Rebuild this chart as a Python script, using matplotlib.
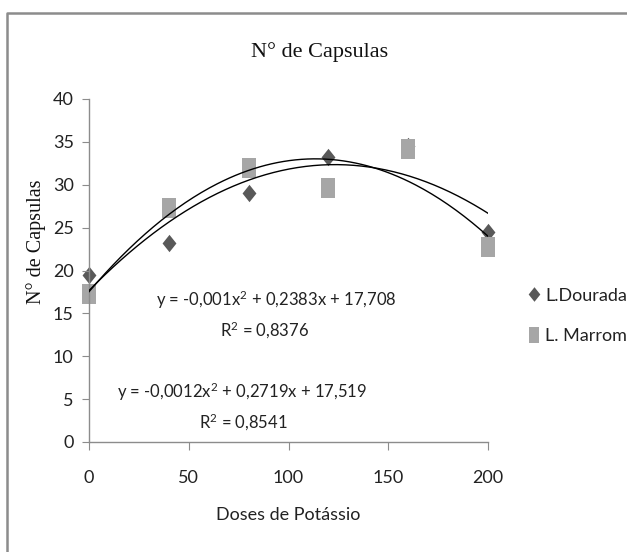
import matplotlib
matplotlib.use('Agg')
import matplotlib.pyplot as plt
from matplotlib.lines import Line2D
import numpy as np

# Data
doses = [0, 40, 80, 120, 160, 200]
dourada = [19.5, 23.2, 29.0, 33.2, 34.5, 24.5]
marrom = [17.3, 27.3, 32.0, 29.6, 34.2, 22.7]
eq_dourada = 'y = -0,001x$^2$ + 0,2383x + 17,708'
r2_dourada = 'R$^2$ = 0,8376'
eq_marrom = 'y = -0,0012x$^2$ + 0,2719x + 17,519'
r2_marrom = 'R$^2$ = 0,8541'

W, H = 627, 552
sans = ['Lato', 'DejaVu Sans']
serif = ['Liberation Serif', 'DejaVu Serif']
plt.rcParams['font.family'] = sans
# superscripts drawn in the same font as the labels
plt.rcParams['mathtext.fontset'] = 'custom'
plt.rcParams['mathtext.rm'] = 'Lato'
plt.rcParams['mathtext.it'] = 'Lato'
plt.rcParams['mathtext.default'] = 'rm'

fig = plt.figure(figsize=(W / 100, H / 100), dpi=100)
ax = fig.add_axes([89 / W, 1 - 442 / H, (488 - 89) / W, (442 - 99) / H])

# markers slightly taller than wide, like the original
diamond = [(0, 1), (0.8, 0), (0, -1), (-0.8, 0), (0, 1)]
rect = [(-0.65, -1), (0.65, -1), (0.65, 1), (-0.65, 1), (-0.65, -1)]

# second order trend lines
xs = np.linspace(0, 200, 200)
for vals in (dourada, marrom):
    coef = np.polyfit(doses, vals, 2)
    ax.plot(xs, np.polyval(coef, xs), color='black', lw=1.0, zorder=3)

ax.plot(doses, marrom, linestyle='none', marker=rect, markersize=15,
        color='#a6a6a6', markeredgewidth=0, label='L. Marrom', zorder=2, clip_on=False)
ax.plot(doses, dourada, linestyle='none', marker=diamond, markersize=12.5,
        color='#595959', markeredgewidth=0, label='L.Dourada', zorder=1, clip_on=False)

ax.set_xlim(0, 200)
ax.set_ylim(0, 40)
ax.set_xticks([0, 50, 100, 150, 200])
ax.set_yticks(range(0, 41, 5))

for side in ('top', 'right'):
    ax.spines[side].set_visible(False)
for side in ('left', 'bottom'):
    ax.spines[side].set_color('#8c8c8c')
    ax.spines[side].set_linewidth(1.0)
ax.tick_params(axis='y', direction='out', length=5, color='#8c8c8c',
               labelsize=13, pad=6, labelcolor='#222222')
ax.tick_params(axis='x', direction='out', length=6, color='#8c8c8c',
               labelsize=13, pad=14, labelcolor='#222222')

# equation labels
fs_eq = 12
fig.text(276 / W, 1 - 300 / H, eq_dourada, ha='center', va='center', fontsize=fs_eq, color='#222222')
fig.text(265 / W, 1 - 330 / H, r2_dourada, ha='center', va='center', fontsize=fs_eq, color='#222222')
fig.text(242 / W, 1 - 392 / H, eq_marrom, ha='center', va='center', fontsize=fs_eq, color='#222222')
fig.text(243 / W, 1 - 422 / H, r2_marrom, ha='center', va='center', fontsize=fs_eq, color='#222222')

# titles
fig.text(320 / W, 1 - 52 / H, 'N° de Capsulas', ha='center', va='center',
         fontsize=16, family=serif, color='#111111')
fig.text(36 / W, 1 - 242 / H, 'N° de Capsulas', ha='center', va='center',
         rotation=90, fontsize=14.5, family=serif, color='#111111')
fig.text(288 / W, 1 - 515 / H, 'Doses de Potássio', ha='center', va='center',
         fontsize=13, color='#222222')

# legend
handles = [
    Line2D([], [], linestyle='none', marker=diamond, markersize=10.5, color='#595959',
           markeredgewidth=0, label='L.Dourada'),
    Line2D([], [], linestyle='none', marker=rect, markersize=11, color='#a6a6a6',
           markeredgewidth=0, label='L. Marrom'),
]
fig.legend(handles=handles, loc='center left', bbox_to_anchor=(528 / W, 1 - 316 / H),
           frameon=False, fontsize=13, handlelength=0.7, handletextpad=0.25,
           labelspacing=1.35, borderpad=0, borderaxespad=0, labelcolor='#222222')

# chart area border (only top and left visible)
fig.add_artist(Line2D([7 / W, 7 / W, 1.0], [0.0, 1 - 13 / H, 1 - 13 / H],
                      transform=fig.transFigure, color='#8c8c8c', lw=1.8))

plt.savefig('out.png', dpi=100, facecolor='white')
